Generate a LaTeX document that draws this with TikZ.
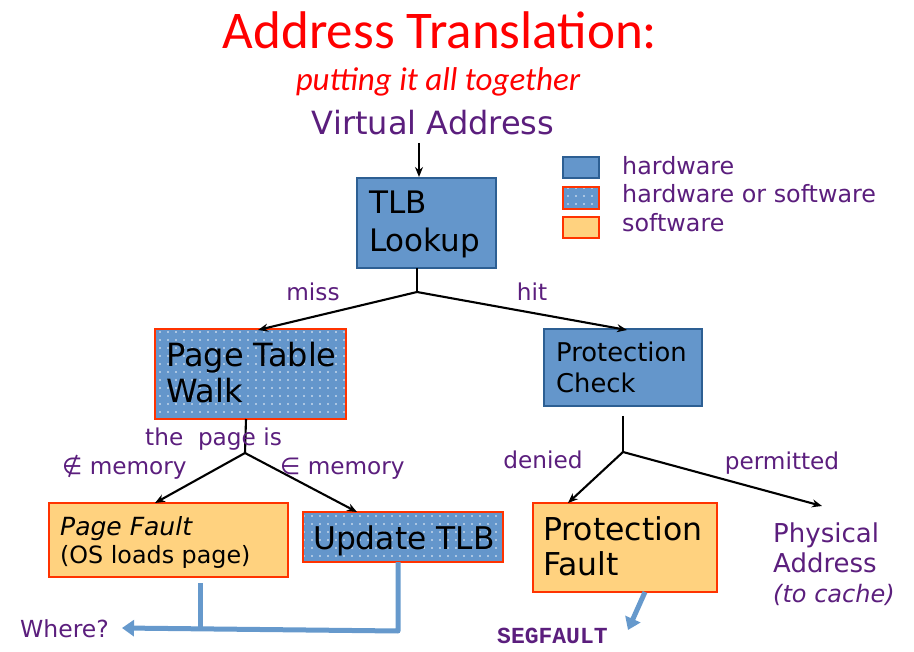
\documentclass[tikz,border=0pt]{standalone}
\usepackage{fontspec}
\setmainfont{DejaVu Sans}
\newfontfamily\titlefont{Carlito}
\newfontfamily\segfont{Liberation Mono}
\usetikzlibrary{arrows.meta,patterns.meta}
\definecolor{hwblue}{HTML}{6496CB}
\definecolor{hwborder}{HTML}{2D5F93}
\definecolor{swfill}{HTML}{FFD27F}
\definecolor{redborder}{HTML}{FF3300}
\definecolor{purp}{HTML}{5B1E7D}
\definecolor{flowblue}{HTML}{6699CC}
\tikzset{
  hwbox/.style={draw=hwborder, line width=2.8pt, fill=hwblue, inner sep=0pt},
  mixbox/.style={draw=redborder, line width=2.8pt, preaction={fill=hwblue},
     pattern={Dots[distance=8pt, radius=0.8pt]}, pattern color=white!92!hwblue, inner sep=0pt},
  swbox/.style={draw=redborder, line width=2.8pt, fill=swfill, inner sep=0pt},
  txt/.style={anchor=base west, inner sep=0pt, text=black},
  lbl/.style={anchor=base, inner sep=0pt, text=purp, font=\fontsize{23.2}{27}\selectfont},
  conn/.style={line width=2.1pt, -{Stealth[length=10pt,width=8pt]}},
  plain/.style={line width=2.1pt},
  flow/.style={line width=5pt, flowblue},
  flowarrow/.style={line width=5pt, flowblue, -{Triangle[length=12pt,width=16pt]}}
}
\begin{document}
\begin{tikzpicture}[x=1pt,y=-1pt]
\useasboundingbox (0,0) rectangle (914,652);
% title
\node[anchor=base, inner sep=0pt, text=red, font=\titlefont\fontsize{53}{62}\selectfont] (title) at (440,49) {Address Translation:};
\node[anchor=base, inner sep=0pt, text=red, font=\titlefont\itshape\fontsize{33}{39}\selectfont] (sub) at (438,91) {putting it all together};
\node[anchor=base, inner sep=0pt, text=purp, font=\fontsize{32}{38}\selectfont] (va) at (433,135) {Virtual Address};
% boxes
\path[hwbox] (357,178) rectangle (496,268);
\node[draw=none, minimum width=139pt, minimum height=90pt, inner sep=0pt] (tlb) at (426.5,223) {};
\node[txt, font=\fontsize{31}{37}\selectfont] (tlbt1) at (369,214) {TLB};
\node[txt, font=\fontsize{31}{37}\selectfont] (tlbt2) at (369,252) {Lookup};

\path[mixbox] (155,329) rectangle (346,419);
\node[draw=none, minimum width=191pt, minimum height=90pt, inner sep=0pt] (ptw) at (250.5,374) {};
\node[txt, font=\fontsize{32}{38}\selectfont] (ptwt1) at (166,367) {Page Table};
\node[txt, font=\fontsize{32}{38}\selectfont] (ptwt2) at (166,403) {Walk};

\path[hwbox] (544,329) rectangle (702,406);
\node[draw=none, minimum width=158pt, minimum height=77pt, inner sep=0pt] (pc) at (623,367.5) {};
\node[txt, font=\fontsize{25.8}{31}\selectfont] (pct1) at (556,362) {Protection};
\node[txt, font=\fontsize{25.8}{31}\selectfont] (pct2) at (556,393) {Check};

\path[swbox] (49,503) rectangle (288,577);
\node[draw=none, minimum width=239pt, minimum height=74pt, inner sep=0pt] (pf) at (168.5,540) {};
\node[txt, font=\itshape\fontsize{25}{30}\selectfont] (pft1) at (60,535) {Page Fault};
\node[txt, font=\fontsize{23.8}{28}\selectfont] (pft2) at (60,563) {(OS loads page)};

\path[mixbox] (303,512) rectangle (503,562);
\node[draw=none, minimum width=200pt, minimum height=50pt, inner sep=0pt] (ut) at (403,537) {};
\node[txt, font=\fontsize{31.3}{37}\selectfont] (utt) at (313,550) {Update TLB};

\path[swbox] (533,503) rectangle (717,592);
\node[draw=none, minimum width=184pt, minimum height=89pt, inner sep=0pt] (pfa) at (625,547.5) {};
\node[txt, font=\fontsize{31.5}{37}\selectfont] (pfat1) at (543,540) {Protection};
\node[txt, font=\fontsize{31.5}{37}\selectfont] (pfat2) at (543,575) {Fault};

\node[anchor=base west, inner sep=0pt, text=purp, font=\fontsize{26}{31}\selectfont] (pa1) at (773,542) {Physical};
\node[anchor=base west, inner sep=0pt, text=purp, font=\fontsize{26}{31}\selectfont] (pa2) at (773,572) {Address};
\node[anchor=base west, inner sep=0pt, text=purp, font=\itshape\fontsize{24}{29}\selectfont] (pa3) at (773,602) {(to cache)};

% legend
\path[hwbox] (563,157) rectangle (599,178);
\node[inner sep=0pt, minimum width=36pt, minimum height=21pt] (lg1) at (581,167.5) {};
\path[mixbox] (563,187) rectangle (599,209);
\node[inner sep=0pt, minimum width=36pt, minimum height=22pt] (lg2) at (581,198) {};
\path[swbox] (563,217) rectangle (599,238);
\node[inner sep=0pt, minimum width=36pt, minimum height=21pt] (lg3) at (581,227.5) {};
\node[anchor=base west, inner sep=0pt, text=purp, font=\fontsize{23.8}{28}\selectfont] (lgt1) at (622,175) {hardware};
\node[anchor=base west, inner sep=0pt, text=purp, font=\fontsize{23.8}{28}\selectfont] (lgt2) at (622,203) {hardware or software};
\node[anchor=base west, inner sep=0pt, text=purp, font=\fontsize{23.8}{28}\selectfont] (lgt3) at (622,232) {software};

% connectors
\coordinate (vab) at (419,143);
\coordinate (tlbin) at (419,177);
\draw[conn] (vab) -- (tlbin);
\coordinate (tlbout) at (417,268);
\coordinate (j1) at (417,292);
\coordinate (ptwin) at (258,330);
\coordinate (pcin) at (627,330);
\draw[plain] (tlbout) -- (j1);
\draw[conn] (j1) -- (ptwin);
\draw[conn] (j1) -- (pcin);
\node[lbl] (miss) at (313,301) {miss};
\node[lbl] (hit) at (532,301) {hit};

\coordinate (ptwout) at (246,419);
\coordinate (j2) at (245,453);
\coordinate (pfin) at (155,503);
\coordinate (utin) at (357,512);
\draw[plain] (ptwout) -- (j2);
\draw[conn] (j2) -- (pfin);
\draw[conn] (j2) -- (utin);
\node[lbl, anchor=base west] (pageis) at (145,446) {the\ \ page is};
\node[lbl, anchor=base west] (notin) at (62,475) {∉ memory};
\node[lbl, anchor=base west] (isin) at (280,475) {∈ memory};

\coordinate (pcout) at (623,416);
\coordinate (j3) at (623,452);
\coordinate (pfain) at (568,503);
\coordinate (pain) at (822,506);
\draw[plain] (pcout) -- (j3);
\draw[conn] (j3) -- (pfain);
\draw[conn] (j3) -- (pain);
\node[lbl] (denied) at (543,468) {denied};
\node[lbl] (permitted) at (782,470) {permitted};

% blue flows
\coordinate (pfdown) at (200,583);
\coordinate (m1) at (200,629);
\coordinate (utdown) at (398,562);
\coordinate (m2) at (398,631);
\coordinate (whereend) at (122,628);
\draw[flow] (pfdown) -- (m1);
\draw[flowarrow, line join=round] (utdown) -- (m2) -- (whereend);
\node[anchor=base west, inner sep=0pt, text=purp, font=\fontsize{23.5}{28}\selectfont] (where) at (20,637) {Where?};

\coordinate (pfaout) at (645,592);
\coordinate (segend) at (628,630);
\draw[flowarrow] (pfaout) -- (segend);
\node[anchor=base west, inner sep=0pt, text=purp, font=\segfont\bfseries\fontsize{23}{28}\selectfont] (seg) at (497,643) {SEGFAULT};
\end{tikzpicture}
\end{document}
